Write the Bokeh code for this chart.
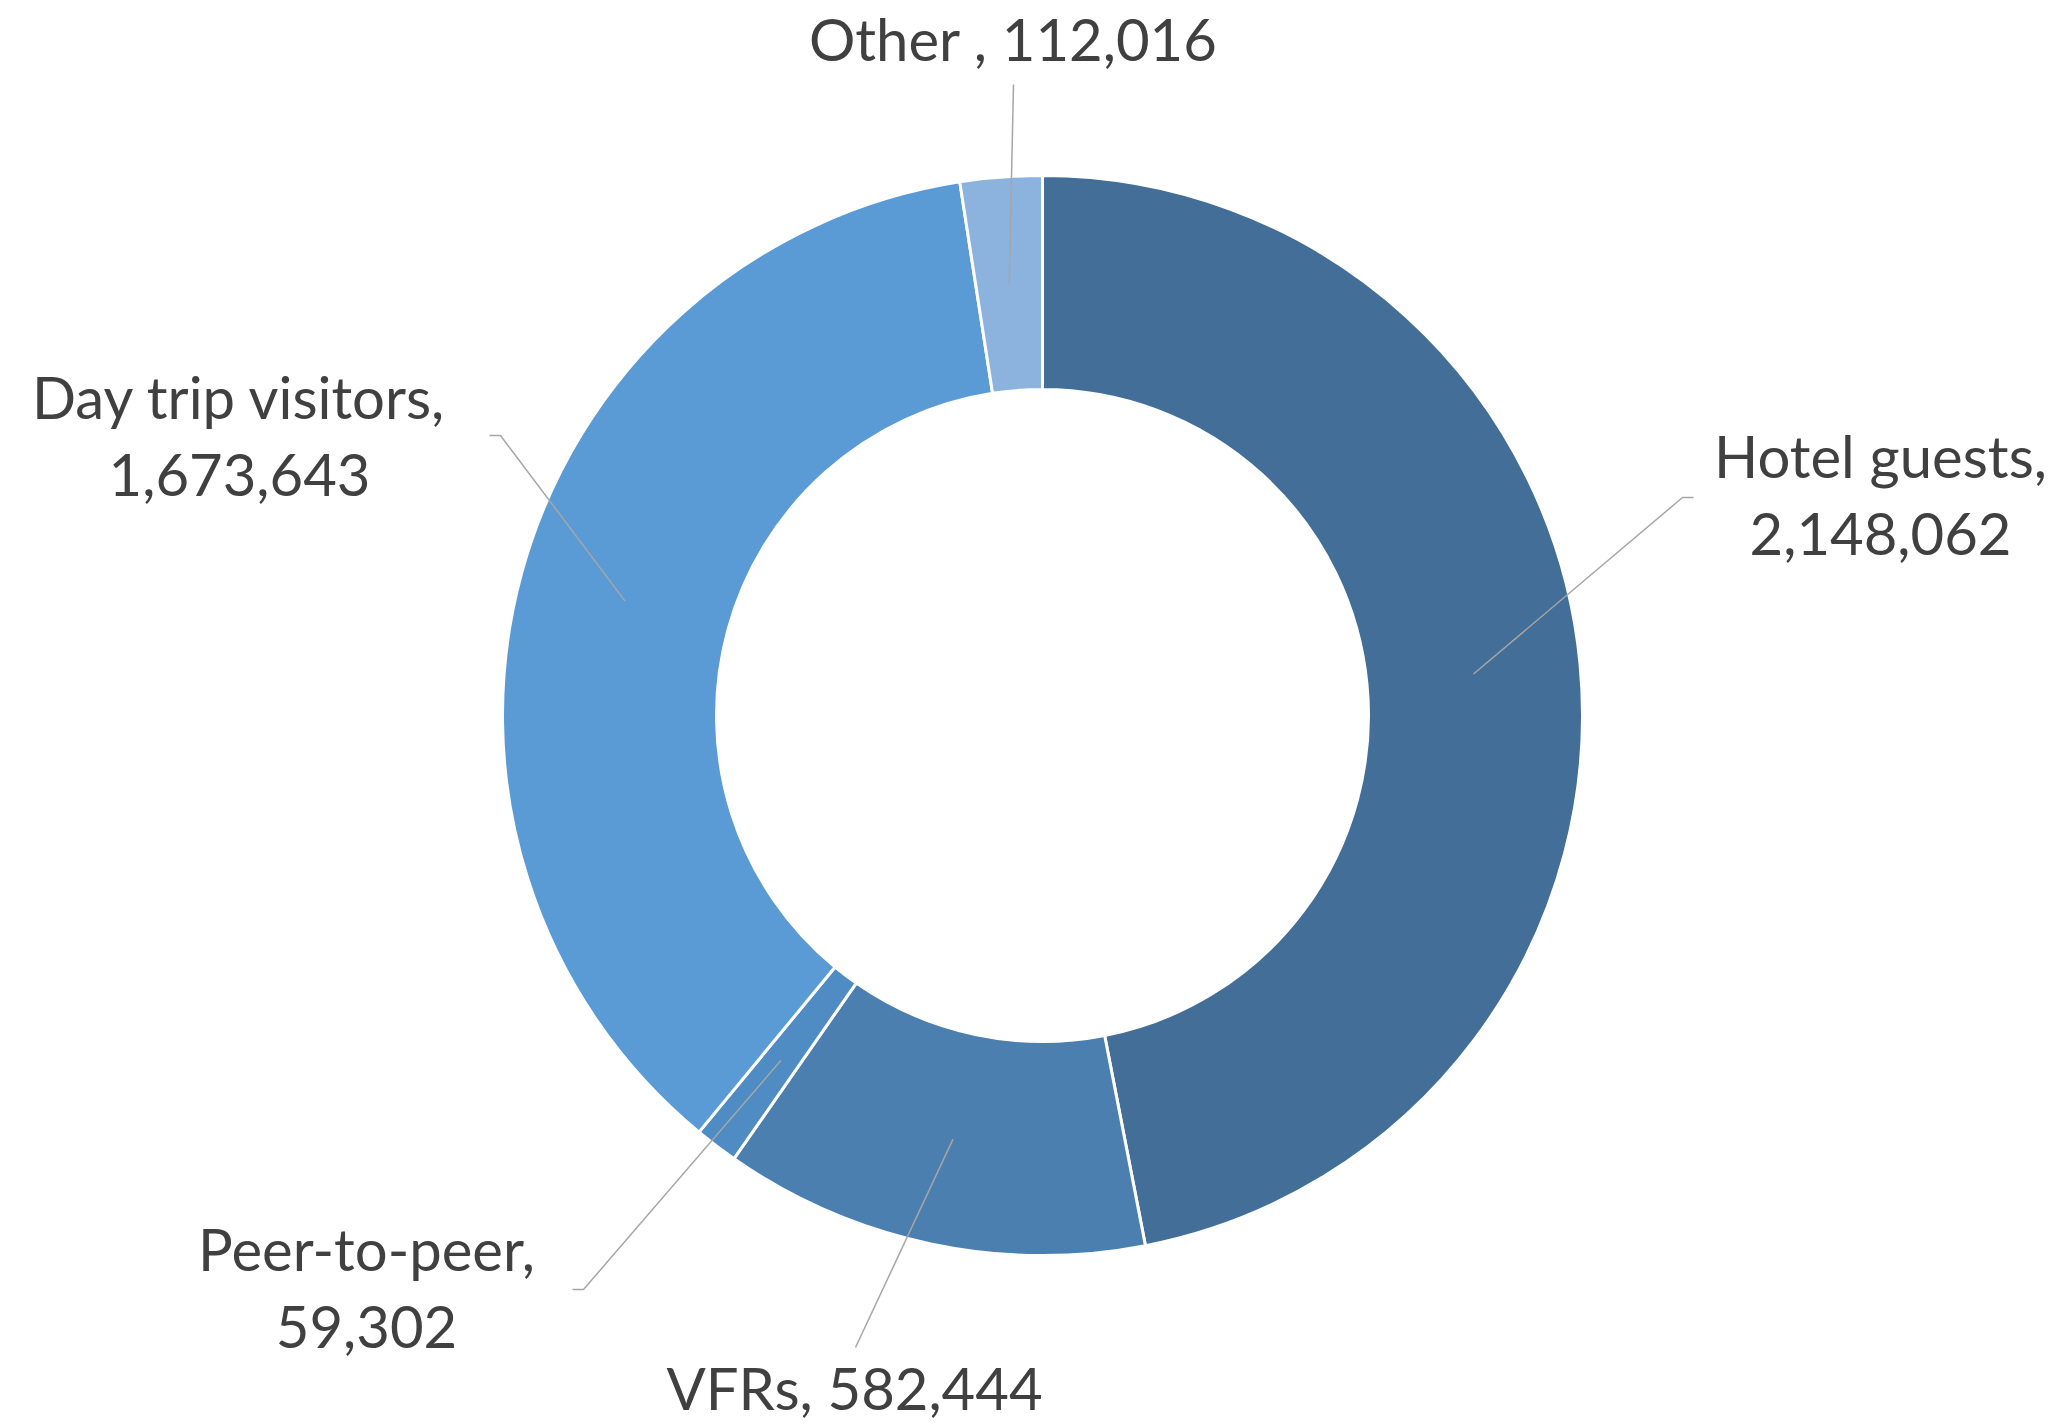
import math
from bokeh.plotting import figure
from bokeh.models import Range1d
from bokeh.core.properties import value
from bokeh.embed import file_html
from bokeh.resources import INLINE

# ---- data ----
categories = ["Hotel guests", "VFRs", "Peer-to-peer", "Day trip visitors", "Other "]
visitors = [2148062, 582444, 59302, 1673643, 112016]
colors = ["#426E98", "#4A7FB0", "#4F8CC3", "#5B9BD5", "#8CB2DE"]

# ---- layout (screen pixels) ----
W, H = 2060, 1425
CX, CY = 1042, 715
R_OUT, R_IN = 540, 326
R_LEAD = 433
FONT = "Lato"
FSIZE = "58px"
TXT = "#404040"
LEAD = "#A6A6A6"
LINE_GAP = 78
TEXT_DY = -25
# label: two-line?, center x, first baseline y, leader path after the inner point
label_two_line = [True, False, True, True, False]
label_cx = [1880, 854, 366, 239, 1013]
label_base = [480, 1412, 1273, 421, 63]
leader_path = [
    [(1682, 497), (1693, 497)],
    [(855, 1347)],
    [(583, 1289), (572, 1289)],
    [(500, 435), (489, 435)],
    [(1013, 84)],
]


def fy(y):
    return H - y


p = figure(width=W, height=H, output_backend="svg", toolbar_location=None,
           x_range=Range1d(0, W), y_range=Range1d(0, H),
           min_border=0)
p.axis.visible = False
p.grid.visible = False
p.outline_line_color = None
p.background_fill_color = "white"

total = float(sum(visitors))
cum = 0.0
starts, ends, mids = [], [], []
for v in visitors:
    a0 = math.pi / 2 - 2 * math.pi * cum / total
    cum += v
    a1 = math.pi / 2 - 2 * math.pi * cum / total
    starts.append(a0)
    ends.append(a1)
    mids.append((a0 + a1) / 2)

p.annular_wedge(x=[CX] * len(visitors), y=[fy(CY)] * len(visitors),
                inner_radius=R_IN, outer_radius=R_OUT,
                start_angle=starts, end_angle=ends, direction="clock",
                fill_color=colors, line_color="white", line_width=3)

# leader lines
for i, m in enumerate(mids):
    px = CX + R_LEAD * math.cos(m)
    py = fy(CY) + R_LEAD * math.sin(m)
    xs = [px] + [q[0] for q in leader_path[i]]
    ys = [py] + [fy(q[1]) for q in leader_path[i]]
    p.line(xs, ys, line_color=LEAD, line_width=1.5)

# labels
for i, (c, v) in enumerate(zip(categories, visitors)):
    if label_two_line[i]:
        lines = [f"{c},", f"{v:,}"]
    else:
        lines = [f"{c}, {v:,}"]
    for k, t in enumerate(lines):
        p.text(x=[label_cx[i]], y=[fy(label_base[i] + k * LINE_GAP + TEXT_DY)], text=[t],
               text_align="center", text_baseline="alphabetic",
               text_font=value(FONT), text_font_size=FSIZE, text_color=TXT)

open("out.html", "w").write(file_html(p, INLINE))
